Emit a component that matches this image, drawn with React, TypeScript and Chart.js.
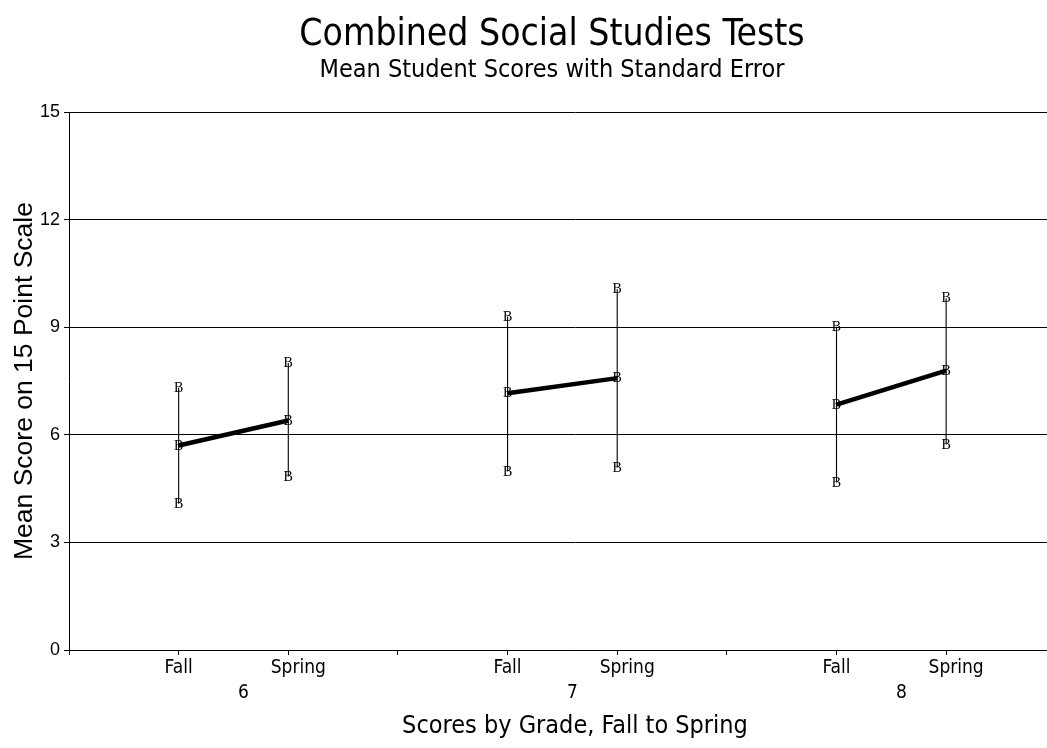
import React, { useEffect, useRef } from "react";
import { Chart, registerables } from "chart.js";

Chart.register(...registerables);

const grades = ["6", "7", "8"];
const terms = ["Fall", "Spring"];
const meanScores = [5.7, 6.4, 7.16, 7.58, 6.84, 7.79];
const upperSE = [7.31, 8.0, 9.3, 10.06, 9.01, 9.81];
const lowerSE = [4.08, 4.84, 4.98, 5.08, 4.67, 5.73];
const yTicks = [0, 3, 6, 9, 12, 15];
const markerLabel = "B";

const titleText = "Combined Social Studies Tests";
const subtitleText = "Mean Student Scores with Standard Error";
const xTitleText = "Scores by Grade, Fall to Spring";
const yTitleText = "Mean Score on 15 Point Scale";

const COND = "'DejaVu Sans Condensed', 'DejaVu Sans', sans-serif";
const ARIAL = "'Liberation Sans', Arial, sans-serif";
const SERIF = "'Liberation Serif', 'DejaVu Serif', serif";

const per = terms.length + 1;
// position of each (grade, term) cell on the linear x scale
const slot = (i: number) => Math.floor(i / terms.length) * per + 1 + (i % terms.length);

// draws the "B" markers at the positions Chart.js computed for the marker dataset
const markerPlugin = {
  id: "bMarkers",
  beforeDatasetsDraw(chart: any) {
    const meta = chart.getDatasetMeta(2);
    const ctx = chart.ctx;
    ctx.save();
    ctx.fillStyle = "#000";
    ctx.font = `14px ${SERIF}`;
    ctx.textAlign = "center";
    ctx.textBaseline = "middle";
    meta.data.forEach((el: any) => {
      ctx.fillText(markerLabel, el.x, el.y + 0.5);
    });
    ctx.restore();
  },
};

export default function App() {
  const ref = useRef<HTMLCanvasElement | null>(null);

  useEffect(() => {
    if (!ref.current) return;

    const meanData: any[] = [];
    const errData: any[] = [];
    const markData: any[] = [];
    meanScores.forEach((m, i) => {
      const x = slot(i);
      meanData.push({ x, y: m });
      if (i % terms.length === terms.length - 1) meanData.push({ x: x + 0.5, y: null });
      errData.push({ x, y: lowerSE[i] }, { x, y: upperSE[i] }, { x: x + 0.5, y: null });
      markData.push({ x, y: lowerSE[i] }, { x, y: m }, { x, y: upperSE[i] });
    });

    const groupCount = grades.length * per;
    const xMax = 9.23;

    const chart = new Chart(ref.current, {
      type: "line",
      data: {
        datasets: [
          {
            data: meanData,
            borderColor: "#000",
            borderWidth: 4.5,
            pointRadius: 0,
            spanGaps: false,
            xAxisID: "x",
          },
          {
            data: errData,
            borderColor: "#000",
            borderWidth: 1.1,
            pointRadius: 0,
            spanGaps: false,
            xAxisID: "x",
          },
          {
            data: markData,
            showLine: false,
            pointRadius: 0,
            xAxisID: "x",
          },
        ],
      },
      plugins: [markerPlugin],
      options: {
        animation: false,
        responsive: false,
        devicePixelRatio: 1,
        layout: { padding: 0 },
        plugins: {
          legend: { display: false },
          tooltip: { enabled: false },
          title: {
            display: true,
            text: titleText,
            color: "#000",
            font: { family: COND, size: 37, weight: "normal", lineHeight: 1 },
            padding: { top: 17, bottom: 0 },
          },
          subtitle: {
            display: true,
            text: subtitleText,
            color: "#000",
            font: { family: COND, size: 25, weight: "normal", lineHeight: 1 },
            padding: { top: 4, bottom: 29 },
          },
        },
        scales: {
          x: {
            type: "linear",
            position: "bottom",
            min: 0,
            max: xMax,
            afterBuildTicks: (axis: any) => {
              const t: any[] = [];
              for (let v = 0; v <= groupCount; v++) t.push({ value: v });
              axis.ticks = t;
            },
            ticks: {
              autoSkip: false,
              maxRotation: 0,
              padding: 2,
              color: "#000",
              font: { family: COND, size: 19 },
              callback: (v: any) => {
                const r = Number(v) % per;
                return r === 1 ? terms[0] : "";
              },
            },
            grid: { drawOnChartArea: false, drawTicks: true, tickLength: 5, color: "#000", tickColor: "#000" },
            border: { display: true, color: "#000", width: 1 },
          },
          xs: {
            type: "linear",
            position: { y: 0 },
            min: 0,
            max: xMax,
            afterBuildTicks: (axis: any) => {
              axis.ticks = grades.map((_, g) => ({ value: g * per + 2 }));
            },
            ticks: {
              autoSkip: false,
              maxRotation: 0,
              padding: 7,
              labelOffset: 10,
              color: "#000",
              font: { family: COND, size: 19 },
              callback: () => terms[1],
            },
            grid: { display: false, drawTicks: false },
            border: { display: false },
          },
          x2: {
            type: "linear",
            position: "bottom",
            min: 0,
            max: xMax,
            afterBuildTicks: (axis: any) => {
              axis.ticks = grades.map((_, g) => ({ value: g * per + per / 2 }));
            },
            ticks: {
              autoSkip: false,
              maxRotation: 0,
              padding: 0,
              labelOffset: 10,
              color: "#000",
              font: { family: COND, size: 19 },
              callback: (v: any) => {
                const g = Math.floor(Number(v) / per);
                return grades[g] ?? "";
              },
            },
            grid: { display: false, drawTicks: false },
            border: { display: false },
            title: {
              display: true,
              text: xTitleText,
              color: "#000",
              font: { family: COND, size: 25 },
              padding: { top: 6.4, bottom: 7 },
            },
          },
          y: {
            type: "linear",
            min: 0,
            max: 15,
            afterBuildTicks: (axis: any) => {
              axis.ticks = yTicks.map((v) => ({ value: v }));
            },
            afterFit: (s: any) => {
              s.width = 69;
            },
            ticks: {
              padding: 4,
              color: "#000",
              font: { family: ARIAL, size: 18 },
            },
            grid: { color: "#000", lineWidth: 1, tickLength: 5, tickColor: "#000" },
            border: { display: true, color: "#000", width: 1 },
            title: {
              display: true,
              text: yTitleText,
              color: "#000",
              font: { family: ARIAL, size: 26.5 },
              padding: { top: 9, bottom: 0 },
            },
          },
          yr: {
            type: "linear",
            position: "right",
            display: true,
            afterFit: (s: any) => {
              s.width = 23;
            },
            ticks: { display: false },
            grid: { display: false, drawTicks: false },
            border: { display: false },
          },
        },
      } as any,
    });
    return () => chart.destroy();
  }, []);

  return (
    <div style={{ position: "fixed", left: 0, top: 0, width: 1047, height: 748, overflow: "hidden", background: "#fff" }}>
      <canvas ref={ref} width={1104} height={748} style={{ width: 1104, height: 748, display: "block" }} />
    </div>
  );
}
